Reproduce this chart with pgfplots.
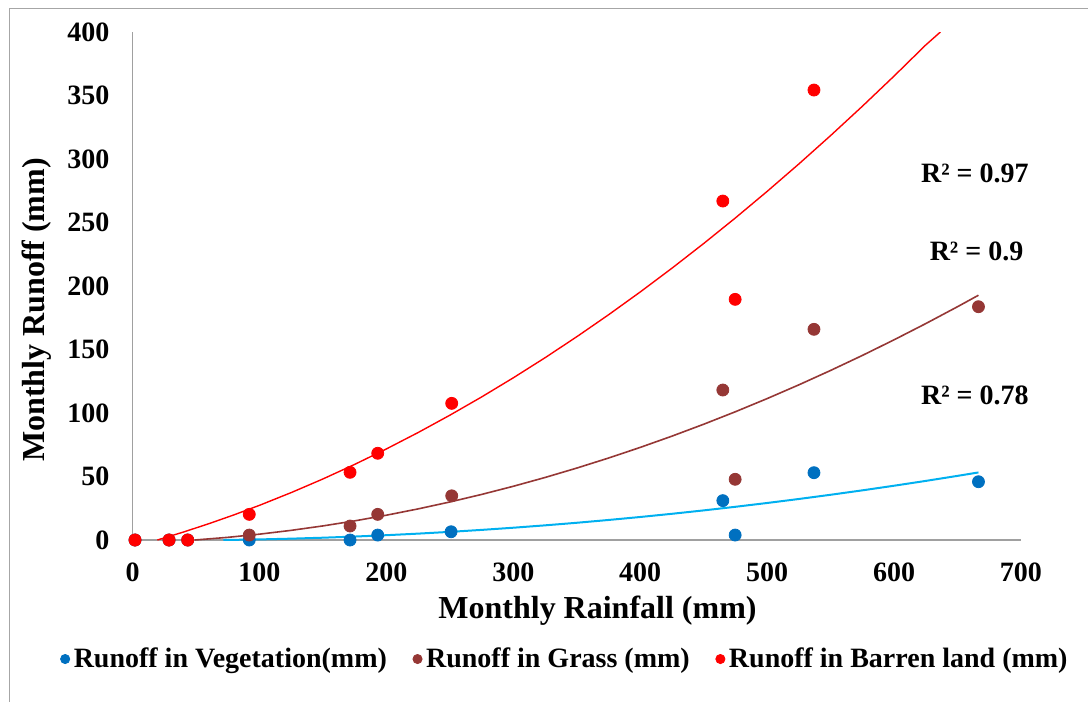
\documentclass[border=0pt]{standalone}
\usepackage{fontspec}
\setmainfont{Liberation Serif}
\usepackage{pgfplots}
\pgfplotsset{compat=1.18}
\definecolor{vegc}{HTML}{0070C0}
\definecolor{vegl}{HTML}{00B0F0}
\definecolor{grac}{HTML}{953735}
\definecolor{bari}{HTML}{FF0000}
\definecolor{axisgray}{HTML}{A0A0A0}
\definecolor{framegray}{HTML}{A6A6A6}
\begin{document}
\begin{tikzpicture}
\path[use as bounding box] (0,0) rectangle (544pt,-351pt);
\draw[framegray, line width=0.75pt] (4.75pt,-360pt) -- (4.75pt,-4.25pt) -- (550pt,-4.25pt);
\begin{axis}[
  at={(66.25pt,-270pt)}, anchor=south west,
  scale only axis, width=444.25pt, height=254pt,
  xmin=0, xmax=700, ymin=0, ymax=400,
  clip mode=individual,
  axis x line*=bottom, axis y line*=left,
  axis line style={draw=axisgray, line width=0.75pt, -},
  xtick={0,100,...,700}, ytick={0,50,...,400},
  major tick length=0pt, tick style={draw=none},
  /pgf/number format/assume math mode=true,
  tick label style={font=\fontsize{14}{16}\selectfont\bfseries},
  xticklabel style={yshift=-8pt},
  yticklabel style={xshift=-8pt},
  xlabel={Monthly Rainfall (mm)}, ylabel={Monthly Runoff (mm)},
  label style={font=\fontsize{16}{19}\selectfont\bfseries},
  xlabel style={at={(axis description cs:0.5234,-0.1398)}, anchor=center},
  ylabel style={at={(axis description cs:-0.1075,0.4528)}, anchor=center},
  legend style={draw=none, fill=none, at={(axis description cs:0.4880,-0.2343)}, anchor=center,
    font=\fontsize{14}{16}\selectfont\bfseries, inner sep=0pt,
    /tikz/every even column/.append style={column sep=11pt}},
  legend columns=3,
  legend cell align=left,
  legend image code/.code={\draw[#1, mark size=2.3pt] plot coordinates {(0pt,0pt)};},
]
% trendlines
\addplot[vegl, line width=1pt, forget plot] coordinates {
(71.6,0) (100,0.47) (125,1.06) (150,1.81) (175,2.72) (200,3.79) (225,5.02) (250,6.41)
(275,7.96) (300,9.67) (325,11.54) (350,13.57) (375,15.77) (400,18.12) (425,20.64)
(450,23.31) (475,26.15) (500,29.15) (525,32.30) (550,35.62) (575,39.10) (600,42.74)
(625,46.54) (650,50.50) (666.5,53.2)};
\addplot[grac, line width=0.8pt, forget plot] coordinates {
(49,0) (75,2.09) (100,4.60) (125,7.60) (150,11.09) (175,15.06) (200,19.53) (225,24.49)
(250,29.94) (275,35.87) (300,42.30) (325,49.22) (350,56.63) (375,64.52) (400,72.91)
(425,81.78) (450,91.15) (475,101.0) (500,111.35) (525,122.18) (550,133.51) (575,145.32)
(600,157.63) (625,170.42) (650,183.70) (666.5,192.74)};
\addplot[bari, line width=0.7pt, forget plot] coordinates {
(19.6,0) (40,6.23) (60,12.79) (80,19.81) (100,27.3) (125,37.31) (150,48.05) (175,59.51)
(200,71.7) (225,84.61) (250,98.25) (275,112.61) (300,127.7) (325,143.51) (350,160.05)
(375,177.31) (400,195.3) (425,214.01) (450,233.45) (475,253.61) (500,274.5) (525,296.11)
(550,318.45) (575,341.51) (600,365.3) (625,389.81) (636.5,400)};
% observations
\addplot[only marks, mark=*, mark size=3pt, color=vegc] coordinates {
(2,0) (28.8,0) (43.5,0) (92,0) (171.4,0) (193.2,3.9) (251,6.5) (465.1,31) (474.8,3.9) (536.9,53) (666.5,45.9)};
\addlegendentry{Runoff in Vegetation(mm)}
\addplot[only marks, mark=*, mark size=3pt, color=grac] coordinates {
(2,0) (28.8,0) (43.5,0) (92,3.9) (171.4,11) (193.2,20.2) (251.5,34.8) (465.1,118.1) (474.8,47.8) (536.9,165.9) (666.5,183.7)};
\addlegendentry{Runoff in Grass (mm)}
\addplot[only marks, mark=*, mark size=3pt, color=bari] coordinates {
(2,0) (28.8,0) (43.5,0) (92,20.2) (171.4,53.3) (193.2,68.3) (251.5,107.6) (465.1,266.9) (474.8,189.5) (536.9,354.3)};
\addlegendentry{Runoff in Barren land (mm)}
\node[font=\fontsize{14}{16}\selectfont\bfseries] at (axis cs:663.7,289) {R² = 0.97};
\node[font=\fontsize{14}{16}\selectfont\bfseries] at (axis cs:665,227) {R² = 0.9};
\node[font=\fontsize{14}{16}\selectfont\bfseries] at (axis cs:663.7,114.2) {R² = 0.78};
\end{axis}
\end{tikzpicture}
\end{document}
